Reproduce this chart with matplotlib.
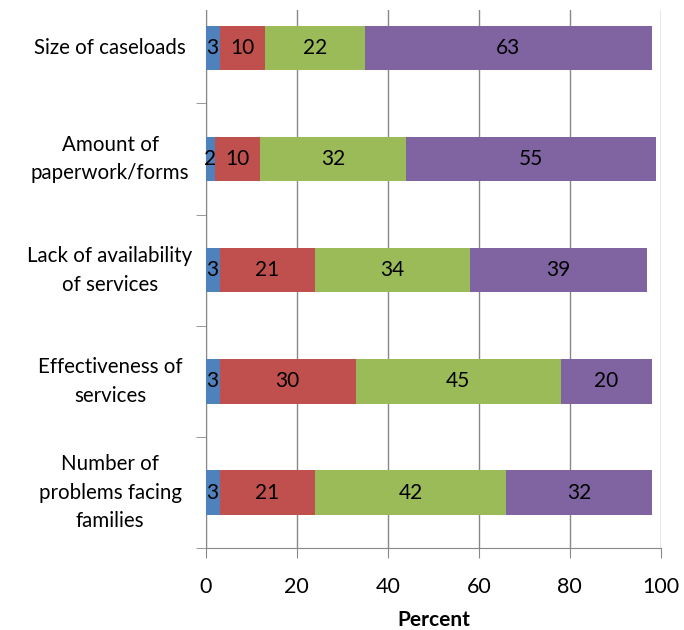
import matplotlib
matplotlib.use("Agg")
import matplotlib.pyplot as plt
import numpy as np

categories = ["Size of caseloads", "Amount of\npaperwork/forms", "Lack of availability\nof services",
              "Effectiveness of\nservices", "Number of\nproblems facing\nfamilies"]
s1 = [3, 2, 3, 3, 3]
s2 = [10, 10, 21, 30, 21]
s3 = [22, 32, 34, 45, 42]
s4 = [63, 55, 39, 20, 32]
colors = ["#4F81BD", "#C0504D", "#9BBB59", "#8064A2"]
xticks = [0, 20, 40, 60, 80, 100]

plt.rcParams['font.family'] = ['Lato', 'DejaVu Sans']
fig = plt.figure(figsize=(6.84, 6.3), dpi=100)
ax = fig.add_axes([0.301, 0.130, 0.665, 0.854])

y = np.arange(len(categories))
left = np.zeros(len(categories))
for vals, c in zip([s1, s2, s3, s4], colors):
    vals = np.array(vals, dtype=float)
    ax.barh(y, vals, left=left, height=0.4, color=c, edgecolor='none', zorder=3)
    for yi, l, v in zip(y, left, vals):
        ax.text(l + v / 2, yi, f"{int(v)}", ha='center', va='center', fontsize=15, color='black', zorder=4)
    left += vals

ax.set_xlim(0, 100)
ax.set_ylim(4.5, -0.34)
ax.set_xticks(xticks)
ax.set_xticklabels([str(t) for t in xticks], fontsize=15.5)
ax.set_yticks(y)
ax.set_yticklabels(categories, fontsize=14.8, ha='center', va='center', linespacing=1.55)
ax.tick_params(axis='y', which='major', length=0, pad=69)
ax.set_yticks(np.arange(0.5, 5, 1), minor=True)
ax.tick_params(axis='y', which='minor', length=7, color='#888888', direction='out')
ax.tick_params(axis='x', length=7, color='#888888', direction='out', pad=14)
ax.grid(axis='x', color='#888888', linewidth=1, zorder=0)
for s in ['top', 'right']:
    ax.spines[s].set_visible(False)
for s in ['left', 'bottom']:
    ax.spines[s].set_color('#888888')
ax.set_xlabel("Percent", fontsize=15, fontweight='bold', labelpad=9)

fig.savefig("out.png", dpi=100)
